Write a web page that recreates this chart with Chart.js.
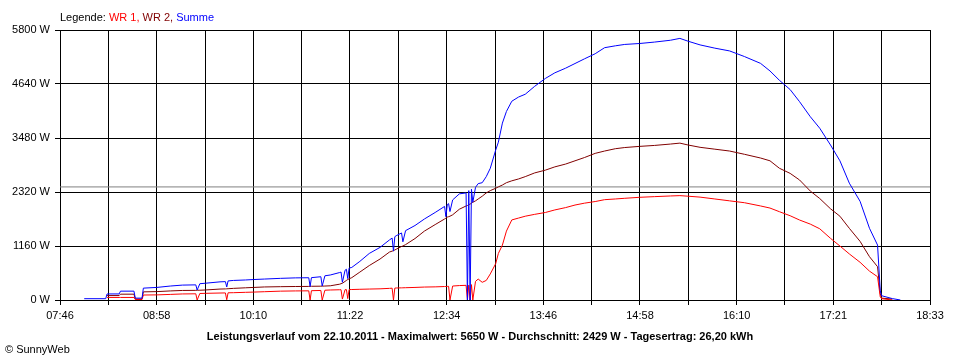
<!DOCTYPE html>
<html><head><meta charset="utf-8">
<script src="https://cdn.jsdelivr.net/npm/chart.js"></script>
<style>html,body{margin:0;padding:0;background:#fff;}#wrap{position:relative;width:960px;height:360px;}</style>
</head><body><div id="wrap"><canvas id="c" width="960" height="360"></canvas></div>
<script>
// ---- data ----
const xTickLabels = ['07:46','08:58','10:10','11:22','12:34','13:46','14:58','16:10','17:21','18:33'];
const yTicks = [0, 1160, 2320, 3480, 4640, 5800];
const average = 2429;
const maxValue = 5650;
const dayYield = '26,20';
const dateText = '22.10.2011';

const times = ['08:04','08:20','08:21','08:30','08:31','08:41','08:42','08:47','08:48','08:58',
  '09:08','09:17','09:27','09:28','09:30','09:34','09:45','09:49','09:50','09:51',
  '09:55','10:04','10:10','10:18','10:30','10:41','10:51','10:52','10:53','11:00',
  '11:01','11:03','11:07','11:14','11:15','11:16','11:18','11:19','11:20','11:21',
  '11:23','11:29','11:36','11:44','11:51','11:53','11:54','11:55','11:56','12:00',
  '12:01','12:03','12:10','12:17','12:25','12:32','12:33','12:34','12:35','12:36',
  '12:38','12:43','12:48','12:49','12:50','12:51','12:52','12:53','12:55','12:57',
  '13:00','13:03','13:06','13:10','13:12','13:15','13:18','13:22','13:27','13:32',
  '13:39','13:47','13:54','14:02','14:09','14:16','14:24','14:31','14:39','14:46',
  '14:57','15:08','15:20','15:27','15:33','15:42','15:53','16:04','16:15','16:27',
  '16:34','16:41','16:49','16:56','17:04','17:11','17:19','17:26','17:33','17:41',
  '17:48','17:54','17:56','17:57','18:05','18:11'];
const wr1 = [null,null,55,55,55,55,10,10,107,110,
  120,130,133,0,140,143,150,152,5,155,
  157,165,170,178,190,195,197,0,200,205,
  0,210,215,220,221,20,222,223,30,224,
  225,230,235,240,250,254,0,256,258,261,
  262,264,270,278,282,289,290,292,294,0,
  300,310,315,0,320,0,330,0,400,450,
  380,420,560,780,1000,1180,1480,1720,1760,1800,
  1840,1880,1935,1985,2040,2080,2115,2155,2170,2185,
  2206,2220,2235,2242,2230,2210,2170,2130,2090,2020,
  1975,1897,1810,1718,1630,1530,1325,1160,990,810,
  620,500,70,28,0,null];
const wr2 = [null,null,95,95,125,125,20,20,175,180,
  195,205,207,210,210,215,235,238,240,242,
  250,262,270,280,286,290,292,293,295,297,
  298,300,305,340,350,360,400,420,440,455,
  480,600,740,880,1030,1050,1060,1075,1090,1150,
  1160,1190,1320,1480,1620,1740,1760,1780,1790,1800,
  1830,1950,2020,2030,2050,2060,2080,2100,2130,2170,
  2230,2300,2350,2400,2430,2470,2520,2560,2600,2650,
  2730,2790,2860,2920,2990,3060,3150,3200,3250,3275,
  3300,3320,3350,3370,3330,3280,3240,3200,3130,3050,
  2990,2830,2720,2578,2340,2180,1960,1800,1540,1260,
  930,715,140,40,20,null];
const summe = [28,28,130,130,190,190,40,40,255,270,
  300,320,325,215,350,360,390,395,280,410,
  420,430,440,450,465,475,478,290,480,500,
  300,520,537,590,600,380,640,660,460,685,
  700,830,1000,1130,1290,1330,1050,1360,1380,1440,
  1250,1490,1600,1740,1880,2010,1790,2050,2070,1900,
  2150,2280,2300,0,2350,0,2380,2100,2420,2500,
  2520,2650,2830,3220,3390,3800,4050,4270,4360,4420,
  4590,4760,4880,4980,5080,5180,5290,5420,5460,5490,
  5510,5540,5580,5620,5560,5480,5410,5350,5230,5083,
  4920,4720,4520,4260,3937,3690,3330,2990,2510,2120,
  1540,1180,200,92,30,0];

// ---- helpers ----
const toMin = s => { const p = s.split(':').map(Number); return p[0] * 60 + p[1]; };
const X_MIN = toMin(xTickLabels[0]);
const X_MAX = toMin(xTickLabels[xTickLabels.length - 1]);
const N_GRID = (xTickLabels.length - 1) * 2;
const pts = arr => times.map((t, i) => ({ x: toMin(t), y: arr[i] }));

const FONT = '"Liberation Sans", Arial, sans-serif';

const textPlugin = {
  id: 'texts',
  afterDraw(chart) {
    const ctx = chart.ctx;
    ctx.save();
    ctx.textBaseline = 'alphabetic';
    ctx.font = '11px ' + FONT;
    let x = 60;
    const parts = [['Legende: ', '#000000'], ['WR 1, ', '#ff0000'], ['WR 2, ', '#800000'], ['Summe', '#0000ff']];
    for (const [t, c] of parts) { ctx.fillStyle = c; ctx.fillText(t, x, 21); x += ctx.measureText(t).width; }
    ctx.fillStyle = '#000';
    ctx.font = 'bold 11px ' + FONT;
    ctx.textAlign = 'center';
    ctx.fillText('Leistungsverlauf vom ' + dateText + ' - Maximalwert: ' + maxValue + ' W - Durchschnitt: ' + average + ' W - Tagesertrag: ' + dayYield + ' kWh', 480, 340);
    ctx.textAlign = 'left';
    ctx.font = '11px ' + FONT;
    ctx.fillText('\u00A9 SunnyWeb', 5, 353);
    ctx.restore();
  }
};

new Chart(document.getElementById('c'), {
  type: 'line',
  data: {
    datasets: [
      { label: 'avg', data: [{ x: X_MIN, y: average }, { x: X_MAX, y: average }], borderColor: '#808080', order: 4 },
      { label: 'WR 2', data: pts(wr2), borderColor: '#800000', order: 3 },
      { label: 'WR 1', data: pts(wr1), borderColor: '#ff0000', order: 2 },
      { label: 'Summe', data: pts(summe), borderColor: '#0000ff', order: 1 }
    ]
  },
  options: {
    responsive: false,
    animation: false,
    devicePixelRatio: 1,
    layout: { padding: { top: 30, right: 30, left: 0, bottom: 0 } },
    plugins: { legend: { display: false }, tooltip: { enabled: false } },
    elements: { point: { radius: 0 }, line: { borderWidth: 1, tension: 0, fill: false } },
    scales: {
      x: {
        type: 'linear', min: X_MIN, max: X_MAX,
        afterBuildTicks: s => { s.ticks = Array.from({ length: N_GRID + 1 }, (_, i) => ({ value: X_MIN + i * (X_MAX - X_MIN) / N_GRID })); },
        afterFit: s => { s.height = 60; },
        ticks: { autoSkip: false, maxRotation: 0, minRotation: 0, color: '#000', font: { family: FONT, size: 11 }, padding: 4,
          callback: (v, i) => (i % 2 === 0 ? xTickLabels[i / 2] : '') },
        grid: { color: '#000', lineWidth: 1, tickLength: 5, drawTicks: true },
        border: { display: true, color: '#000', width: 1 }
      },
      y: {
        min: yTicks[0], max: yTicks[yTicks.length - 1],
        afterBuildTicks: s => { s.ticks = yTicks.map(v => ({ value: v })); },
        afterFit: s => { s.width = 60; },
        ticks: { color: '#000', font: { family: FONT, size: 11 }, padding: 5, callback: v => v + ' W' },
        grid: { color: '#000', lineWidth: 1, tickLength: 5, drawTicks: true },
        border: { display: true, color: '#000', width: 1 }
      }
    }
  },
  plugins: [textPlugin]
});
</script></body></html>
